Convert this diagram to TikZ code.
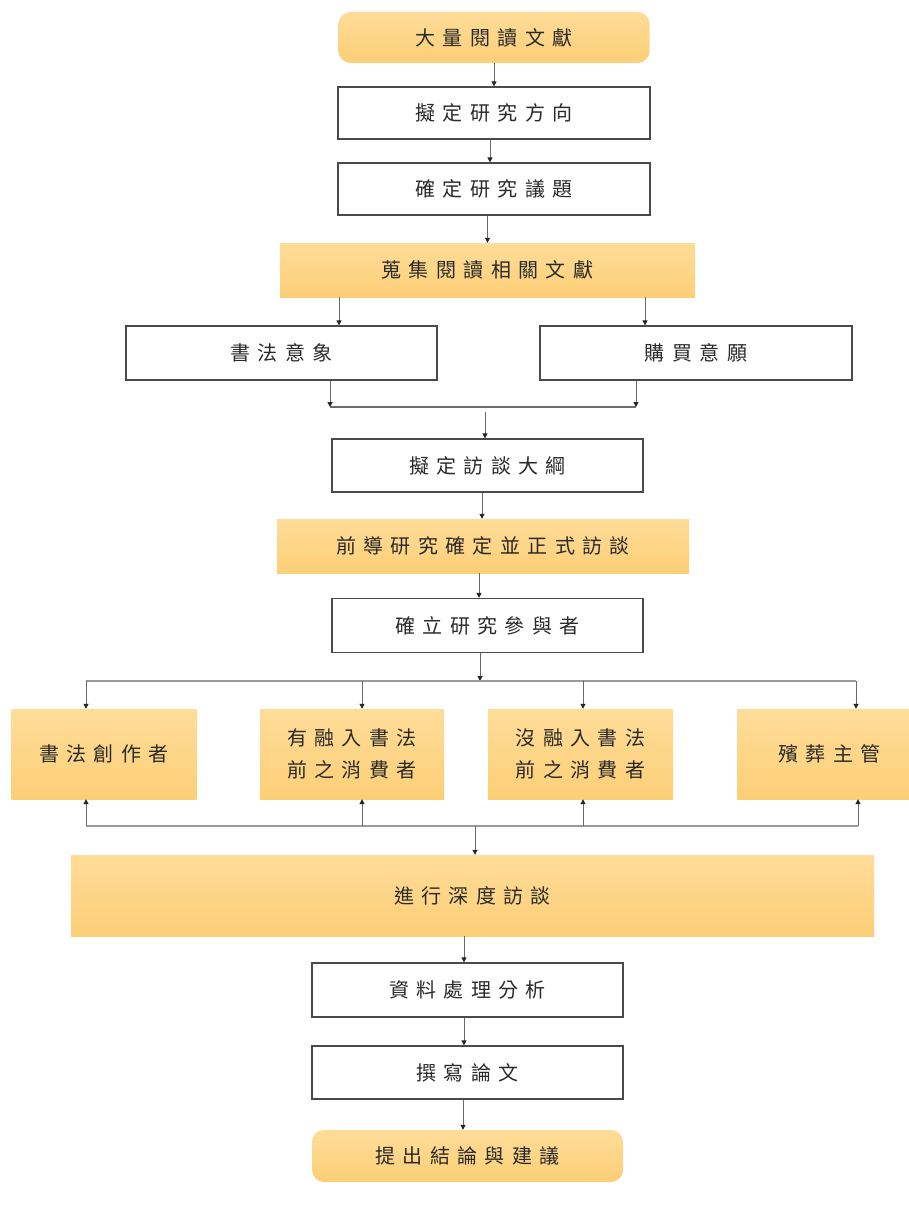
\documentclass[tikz,border=0pt]{standalone}
\usepackage{fontspec}
\newfontfamily\cjk{Noto Sans CJK TC}[LetterSpace=37]
\usetikzlibrary{arrows.meta}
\definecolor{boxline}{HTML}{4A4A4A}
\definecolor{conn}{HTML}{6A6A6A}
\definecolor{hconn}{HTML}{9A9A9A}
\definecolor{txt}{HTML}{2A2A2A}
\definecolor{orTop}{HTML}{FFDC98}
\definecolor{orBot}{HTML}{FCCF77}
\begin{document}
\begin{tikzpicture}[x=1pt,y=-1pt,
  base/.style={inner sep=0pt, font=\cjk\fontsize{20}{32}\selectfont, text=txt, align=center},
  wbox/.style={base, draw=boxline, line width=1.2pt, fill=white},
  obox/.style={base, draw=none, top color=orTop, bottom color=orBot},
  rbox/.style={obox, rounded corners=12pt},
  arr/.style={draw=conn, line width=1pt, -{Triangle[length=5pt,width=5pt,color=black!85]}},
  hline/.style={draw=hconn, line width=1.8pt},
  mline/.style={draw=conn, line width=1.2pt}
]
\useasboundingbox (0,0) rectangle (909,1223);
\fill[white] (0,0) rectangle (909,1223);

% nodes
\node[rbox, minimum width=311pt, minimum height=51pt] (n1) at (494,37.5) {大量閱讀文獻};
\node[wbox, minimum width=312pt, minimum height=52pt] (n2) at (494,113) {擬定研究方向};
\node[wbox, minimum width=312pt, minimum height=52pt] (n3) at (494,189) {確定研究議題};
\node[obox, minimum width=415pt, minimum height=54pt] (n4) at (487.5,270) {蒐集閱讀相關文獻};
\node[wbox, minimum width=311pt, minimum height=54pt] (n5) at (281.5,353) {書法意象};
\node[wbox, minimum width=312pt, minimum height=54pt] (n6) at (696,353) {購買意願};
\node[wbox, minimum width=311pt, minimum height=53pt] (n7) at (487.5,465.5) {擬定訪談大綱};
\node[obox, minimum width=412pt, minimum height=54pt] (n8) at (483,546) {前導研究確定並正式訪談};
\node[wbox, minimum width=311pt, minimum height=54pt] (n9) at (487.5,625.5) {確立研究參與者};
\node[obox, minimum width=185pt, minimum height=90pt] (p1) at (104,754) {書法創作者};
\node[obox, minimum width=184pt, minimum height=90pt] (p2) at (352,754) {有融入書法\\前之消費者};
\node[obox, minimum width=185pt, minimum height=90pt] (p3) at (580.5,754) {沒融入書法\\前之消費者};
\node[obox, minimum width=185pt, minimum height=90pt] (p4) at (829.5,754) {殯葬主管};
\node[obox, minimum width=803pt, minimum height=81pt] (n10) at (472.5,895.5) {進行深度訪談};
\node[wbox, minimum width=311pt, minimum height=54pt] (n11) at (467.5,990) {資料處理分析};
\node[wbox, minimum width=311pt, minimum height=53pt] (n12) at (467.5,1072.5) {撰寫論文};
\node[rbox, minimum width=311pt, minimum height=52pt] (n13) at (467.5,1156) {提出結論與建議};

% junction coordinates
\coordinate (mL) at (330,407);
\coordinate (mR) at (636,407);
\coordinate (mC) at (485,412);
\coordinate (tC) at (480,681);
\coordinate (t1) at (86,681);
\coordinate (t2) at (362,681);
\coordinate (t3) at (583,681);
\coordinate (t4) at (856,681);
\coordinate (b1) at (86,826);
\coordinate (b2) at (362,826);
\coordinate (b3) at (583,826);
\coordinate (b4) at (858,826);
\coordinate (bC) at (475,826);

% connectors
\draw[arr] (n1.south) -- (n2.north);
\draw[arr] ([xshift=-4pt]n2.south) -- ([xshift=-4pt]n3.north);
\draw[arr] ([xshift=-6.5pt]n3.south) -- (n4.north);
\draw[arr] ([xshift=-148.5pt]n4.south) -- ([xshift=57.5pt]n5.north);
\draw[arr] ([xshift=157.5pt]n4.south) -- ([xshift=-51pt]n6.north);
\draw[arr] ([xshift=48.5pt]n5.south) -- (mL);
\draw[arr] ([xshift=-60pt]n6.south) -- (mR);
\draw[mline] (mL) -- (mR);
\draw[arr] (mC) -- ([xshift=-2.5pt]n7.north);
\draw[arr] ([xshift=-5.5pt]n7.south) -- ([xshift=-1pt]n8.north);
\draw[arr] ([xshift=-4pt]n8.south) -- ([xshift=-8.5pt]n9.north);
\draw[arr] ([xshift=-7.5pt]n9.south) -- (tC);
\draw[hline] (t1) -- (t4);
\draw[arr] (t1) -- ([xshift=-18pt]p1.north);
\draw[arr] (t2) -- ([xshift=10pt]p2.north);
\draw[arr] (t3) -- ([xshift=2.5pt]p3.north);
\draw[arr] (t4) -- ([xshift=26.5pt]p4.north);
\draw[hline] (b1) -- (b4);
\draw[arr] (b1) -- ([xshift=-18pt]p1.south);
\draw[arr] (b2) -- ([xshift=10pt]p2.south);
\draw[arr] (b3) -- ([xshift=2.5pt]p3.south);
\draw[arr] (b4) -- ([xshift=28.5pt]p4.south);
\draw[arr] (bC) -- ([xshift=2.5pt]n10.north);
\draw[arr] ([xshift=-8.5pt]n10.south) -- ([xshift=-3.5pt]n11.north);
\draw[arr] ([xshift=-3.5pt]n11.south) -- ([xshift=-3.5pt]n12.north);
\draw[arr] ([xshift=-4.5pt]n12.south) -- ([xshift=-4.5pt]n13.north);
\end{tikzpicture}
\end{document}
